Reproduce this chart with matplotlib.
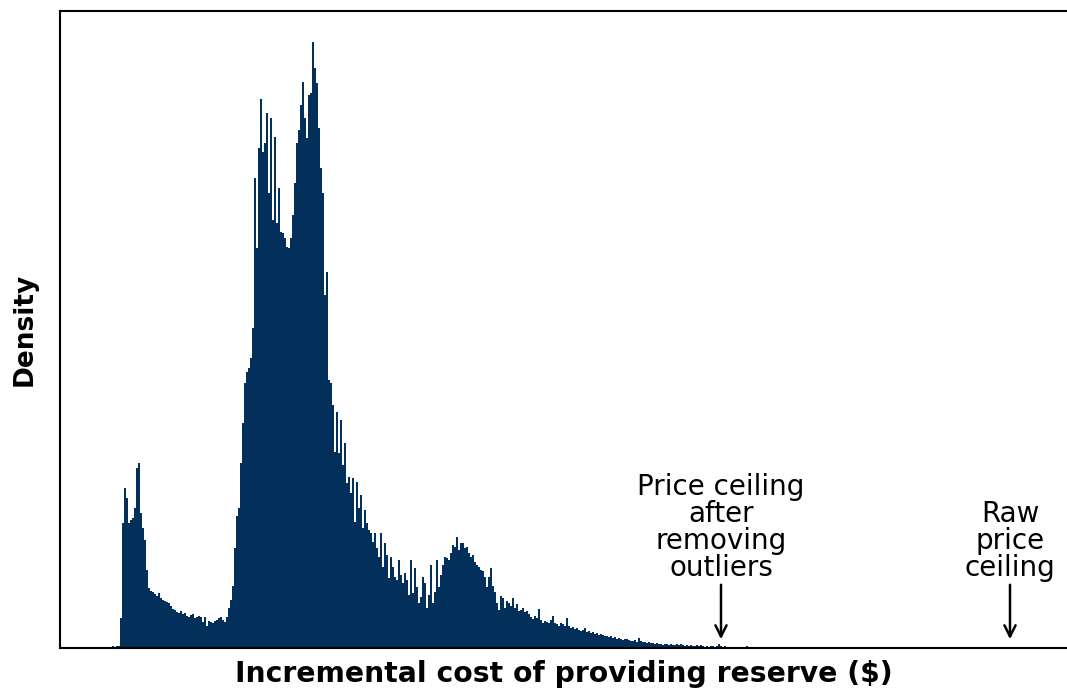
import numpy as np
import matplotlib
matplotlib.use('Agg')
import matplotlib.pyplot as plt

# histogram of incremental cost, bins of equal width (arbitrary $ units)
bin_start = 38
bin_width = 2
density = [
    0, 1, 0, 1, 1, 0, 1, 2, 1, 2,
    2, 30, 125, 160, 150, 125, 128, 130, 140, 180,
    185, 135, 120, 108, 78, 60, 57, 56, 54, 52,
    55, 50, 48, 47, 46, 45, 42, 39, 38, 36,
    35, 37, 34, 35, 32, 31, 33, 34, 30, 31,
    32, 31, 26, 31, 22, 27, 26, 25, 27, 28,
    30, 31, 28, 26, 31, 40, 48, 62, 100, 132,
    140, 185, 225, 265, 276, 280, 290, 320, 470, 400,
    500, 549, 496, 505, 535, 455, 530, 428, 511, 425,
    460, 416, 415, 410, 401, 400, 410, 433, 465, 505,
    518, 543, 566, 530, 510, 553, 555, 606, 580, 565,
    520, 480, 455, 353, 376, 268, 265, 243, 196, 236,
    195, 228, 183, 205, 165, 171, 155, 170, 126, 166,
    140, 153, 120, 138, 125, 118, 115, 106, 115, 100,
    91, 115, 81, 105, 93, 70, 91, 81, 71, 68,
    88, 73, 65, 75, 68, 53, 88, 55, 80, 61,
    45, 51, 71, 65, 40, 53, 83, 45, 56, 88,
    61, 73, 83, 91, 90, 88, 95, 103, 101, 111,
    98, 105, 105, 100, 101, 95, 91, 93, 86, 83,
    81, 78, 77, 71, 61, 71, 80, 62, 56, 45,
    38, 52, 50, 40, 47, 45, 42, 50, 40, 44,
    37, 38, 40, 36, 37, 34, 31, 29, 32, 30,
    39, 28, 25, 27, 26, 25, 28, 32, 25, 24,
    22, 25, 24, 22, 30, 22, 20, 21, 19, 20,
    18, 17, 18, 20, 16, 17, 15, 16, 14, 15,
    13, 14, 13, 12, 12, 11, 12, 10, 11, 9,
    10, 9, 8, 9, 9, 8, 7, 7, 8, 6,
    10, 7, 6, 6, 5, 6, 5, 5, 4, 5,
    4, 4, 3, 4, 4, 3, 4, 3, 3, 4,
    3, 4, 3, 2, 3, 2, 3, 2, 2, 3,
    2, 3, 2, 1, 2, 1, 2, 2, 1, 2,
    4, 2, 1, 2, 1, 1, 1, 1, 0, 1,
    0, 1, 0, 1, 2, 0, 1, 0, 0, 1,
    0, 1, 1, 0, 0, 0, 1, 0, 0, 0,
    1, 1,
]

ceiling_clean = 661
ceiling_raw = 950
ceiling_labels = ['Price ceiling\nafter\nremoving\noutliers', 'Raw\nprice\nceiling']

x = bin_start + bin_width * np.arange(len(density))

fig = plt.figure(figsize=(10.67, 6.89), dpi=100)
ax = fig.add_axes([60 / 1067, 41 / 689, 1007 / 1067, 637 / 689])
ax.bar(x, density, width=bin_width, align='edge', color='#02305a', linewidth=0)

ax.set_xlim(0, 1007)
ax.set_ylim(0, 637)
ax.set_xticks([])
ax.set_yticks([])
ax.spines['right'].set_visible(False)
for s in ['left', 'top', 'bottom']:
    ax.spines[s].set_linewidth(1.5)

for cx, lab in zip([ceiling_clean, ceiling_raw], ceiling_labels):
    ax.text(cx, 66, lab, ha='center', va='bottom', multialignment='center',
            fontsize=20, linespacing=0.95)
    ax.annotate('', xy=(cx, 6), xytext=(cx, 66),
                arrowprops=dict(arrowstyle='->', lw=1.8, color='black', mutation_scale=20))

ax.set_xlabel('Incremental cost of providing reserve ($)', fontsize=20.3, fontweight='bold', labelpad=9)
ax.set_ylabel('Density', fontsize=19, fontweight='bold', labelpad=16)

fig.savefig('out.png', dpi=100)
